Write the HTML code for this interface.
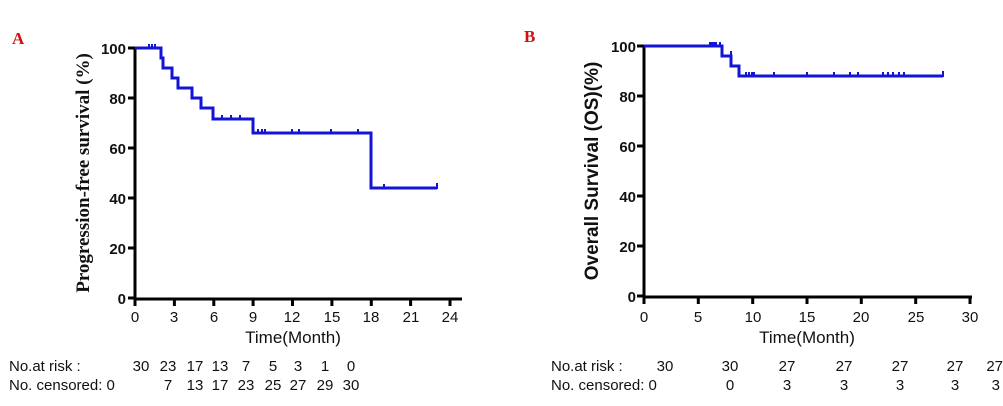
<!DOCTYPE html>
<html><head><meta charset="utf-8"><style>
body{margin:0;background:#fff;}
svg{display:block;}
.t{font-family:"Liberation Sans",sans-serif;font-weight:bold;font-size:15px;fill:#111;}
.n{font-family:"Liberation Sans",sans-serif;font-size:15px;fill:#111;}
</style></head><body>
<svg width="1003" height="406" viewBox="0 0 1003 406" xmlns="http://www.w3.org/2000/svg">
<text x="12" y="44" font-family="Liberation Serif,serif" font-weight="bold" font-size="17" fill="#d01010">A</text>
<text x="524" y="42" font-family="Liberation Serif,serif" font-weight="bold" font-size="17" fill="#d01010">B</text>

<g stroke="#000" stroke-width="3" fill="none">
<path d="M135,47 V299 H462"/>
<path d="M128,48h7M128,98h7M128,148h7M128,198h7M128,248h7M128,298h7"/>
<path d="M135,298v8M174.4,298v8M213.8,298v8M253.1,298v8M292.5,298v8M331.9,298v8M371.3,298v8M410.6,298v8M450,298v8"/>
</g>
<g class="t" text-anchor="end">
<text x="126" y="54">100</text><text x="126" y="104">80</text><text x="126" y="154">60</text><text x="126" y="204">40</text><text x="126" y="254">20</text><text x="126" y="304">0</text>
</g>
<g class="n" text-anchor="middle">
<text x="135" y="322">0</text><text x="174" y="322">3</text><text x="214" y="322">6</text><text x="253" y="322">9</text><text x="292" y="322">12</text><text x="332" y="322">15</text><text x="371" y="322">18</text><text x="411" y="322">21</text><text x="450" y="322">24</text>
<text x="293" y="343" font-size="17">Time(Month)</text>
</g>
<text transform="translate(89,173) rotate(-90)" text-anchor="middle" font-family="Liberation Serif,serif" font-weight="bold" font-size="19" fill="#111">Progression-free survival (%)</text>
<path fill="none" stroke="#1414d8" stroke-width="3" d="M135,48 H161 V58 H163 V68 H172 V78 H178 V88 H192 V98 H201 V108 H213 V119 H253 V133 H371 V188 H437"/>
<g stroke="#1414d8" stroke-width="2">
<path d="M149,44v5M152,44v5M155,44v5M222,115v5M231,115v5M240,115v5M258,129v5M262,129v5M265,129v5M292,129v5M299,129v5M331,129v5M358,129v5M384,184v5M437,183v6"/>
</g>

<g stroke="#000" stroke-width="3" fill="none">
<path d="M644,45 V297 H972"/>
<path d="M637,46h7M637,96h7M637,146h7M637,196h7M637,246h7M637,296h7"/>
<path d="M644,296v8M698.3,296v8M752.7,296v8M807,296v8M861.3,296v8M915.7,296v8M970,296v8"/>
</g>
<g class="t" text-anchor="end">
<text x="636" y="52">100</text><text x="636" y="102">80</text><text x="636" y="152">60</text><text x="636" y="202">40</text><text x="636" y="252">20</text><text x="636" y="302">0</text>
</g>
<g class="n" text-anchor="middle">
<text x="644" y="322">0</text><text x="698" y="322">5</text><text x="753" y="322">10</text><text x="807" y="322">15</text><text x="861" y="322">20</text><text x="916" y="322">25</text><text x="970" y="322">30</text>
<text x="807" y="343" font-size="17">Time(Month)</text>
</g>
<text transform="translate(598,171) rotate(-90)" text-anchor="middle" font-family="Liberation Sans,sans-serif" font-weight="bold" font-size="19" fill="#111">Overall Survival (OS)(%)</text>
<path fill="none" stroke="#1414d8" stroke-width="3" d="M644,46 H722 V56 H731 V66 H739 V76 H943"/>
<g stroke="#1414d8" stroke-width="2">
<path d="M710,42v5M712,42v5M714,42v5M716,42v5M720,42v5M731,51v5M746,72v5M749,72v5M752,72v5M754,72v5M774,72v5M807,72v5M834,72v5M850,72v5M858,72v5M883,72v5M888,72v5M893,72v5M899,72v5M904,72v5M943,71v6"/>
</g>

<g class="n" font-size="15">
<text x="9" y="371">No.at risk :</text>
<text x="9" y="390">No. censored: 0</text>
<g text-anchor="middle">
<text x="141" y="371">30</text><text x="168" y="371">23</text><text x="195" y="371">17</text><text x="220" y="371">13</text><text x="246" y="371">7</text><text x="273" y="371">5</text><text x="298" y="371">3</text><text x="325" y="371">1</text><text x="351" y="371">0</text>
<text x="168" y="390">7</text><text x="195" y="390">13</text><text x="220" y="390">17</text><text x="246" y="390">23</text><text x="273" y="390">25</text><text x="298" y="390">27</text><text x="325" y="390">29</text><text x="351" y="390">30</text>
</g>
<text x="551" y="371">No.at risk :</text>
<text x="551" y="390">No. censored: 0</text>
<g text-anchor="middle">
<text x="665" y="371">30</text><text x="730" y="371">30</text><text x="787" y="371">27</text><text x="844" y="371">27</text><text x="900" y="371">27</text><text x="955" y="371">27</text>
<text x="730" y="390">0</text><text x="787" y="390">3</text><text x="844" y="390">3</text><text x="900" y="390">3</text><text x="955" y="390">3</text>
</g>
<text x="1003" y="371" text-anchor="end">27</text>
<text x="1000" y="390" text-anchor="end">3</text>
</g>
</svg>
</body></html>
